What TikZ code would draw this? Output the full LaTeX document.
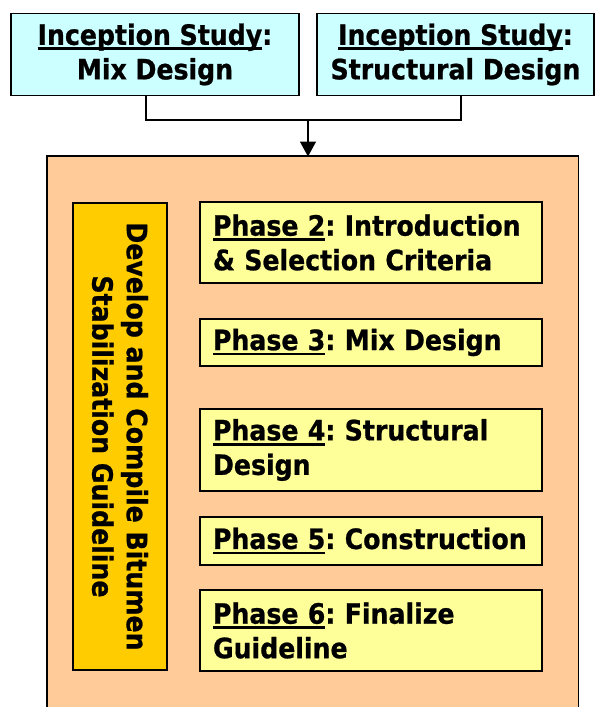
\documentclass[tikz,border=0pt]{standalone}
\usepackage{fontspec}
\setmainfont{DejaVu Sans Condensed}[BoldFont={DejaVu Sans Condensed Bold}, BoldFeatures={FakeBold=0.8}]
\usetikzlibrary{arrows.meta}
\definecolor{cyanbox}{HTML}{CCFFFF}
\definecolor{orangebox}{HTML}{FFCC99}
\definecolor{goldbox}{HTML}{FFCC00}
\definecolor{phasebox}{HTML}{FFFF99}
\newcommand\ulx[1]{\setbox0\hbox{#1}\rlap{\rule[-5.3pt]{\wd0}{2.7pt}}\box0}
\tikzset{
  every node/.style={font=\fontsize{28}{34.5}\selectfont\bfseries},
  topbox/.style={draw=black, line width=1.4pt, fill=cyanbox, align=center, inner sep=0pt},
  phasebox/.style={draw=black, line width=1.4pt, fill=phasebox, align=left, inner xsep=13pt, inner ysep=0pt, text width=316pt, minimum width=342pt},
  guidebox/.style={draw=black, line width=1.4pt, fill=goldbox, inner sep=0pt, minimum width=94pt, minimum height=467pt},
  conn/.style={line width=1.6pt, draw=black},
}
\begin{document}
\frenchspacing
\hyphenpenalty=10000\relax
\exhyphenpenalty=10000\relax
\begin{tikzpicture}[x=1pt, y=-1pt]
\useasboundingbox (0,0) rectangle (595,707);
% top boxes
\node[topbox, minimum width=288pt, minimum height=82pt] (lt) at (155,54.5) {\ulx{Inception Study}:\\Mix Design};
\node[topbox, minimum width=277pt, minimum height=82pt] (rt) at (455.5,54.5) {\ulx{Inception Study}:\\Structural Design};
% orange container
\node[fill=orangebox, inner sep=0pt, minimum width=531pt, minimum height=560pt, anchor=north west] (org) at (47,156) {};
\draw[line width=1.4pt] (org.south west) -- (org.north west) -- (org.north east) -- (org.south east);
% connectors
\coordinate (cL) at (146,120);
\coordinate (cR) at (461,120);
\coordinate (j) at (308,120);
\draw[conn] (lt.south -| cL) -- (cL) -- (cR) -- (rt.south -| cR);
\draw[conn, -{Triangle[width=16pt,length=15pt]}, shorten >=-0.5pt] (j) -- (org.north -| j);
% guideline box
\node[guidebox] (g) at (120,436.5) {};
\node[rotate=-90, align=center, inner sep=0pt] (gt) at (g.center) {Develop and Compile Bitumen\\Stabilization Guideline};
% phases
\node[phasebox, minimum height=81pt] (p2) at (371,242.5) {\ulx{Phase 2}: Introduction\\\& Selection Criteria};
\node[phasebox, minimum height=47pt] (p3) at (371,342.5) {\ulx{Phase 3}: Mix Design};
\node[phasebox, minimum height=82pt] (p4) at (371,450) {\ulx{Phase 4}: Structural\\Design};
\node[phasebox, minimum height=48pt] (p5) at (371,541) {\ulx{Phase 5}:~Construction};
\node[phasebox, minimum height=81pt] (p6) at (371,630.5) {\ulx{Phase 6}: Finalize\\Guideline};
\end{tikzpicture}
\end{document}
